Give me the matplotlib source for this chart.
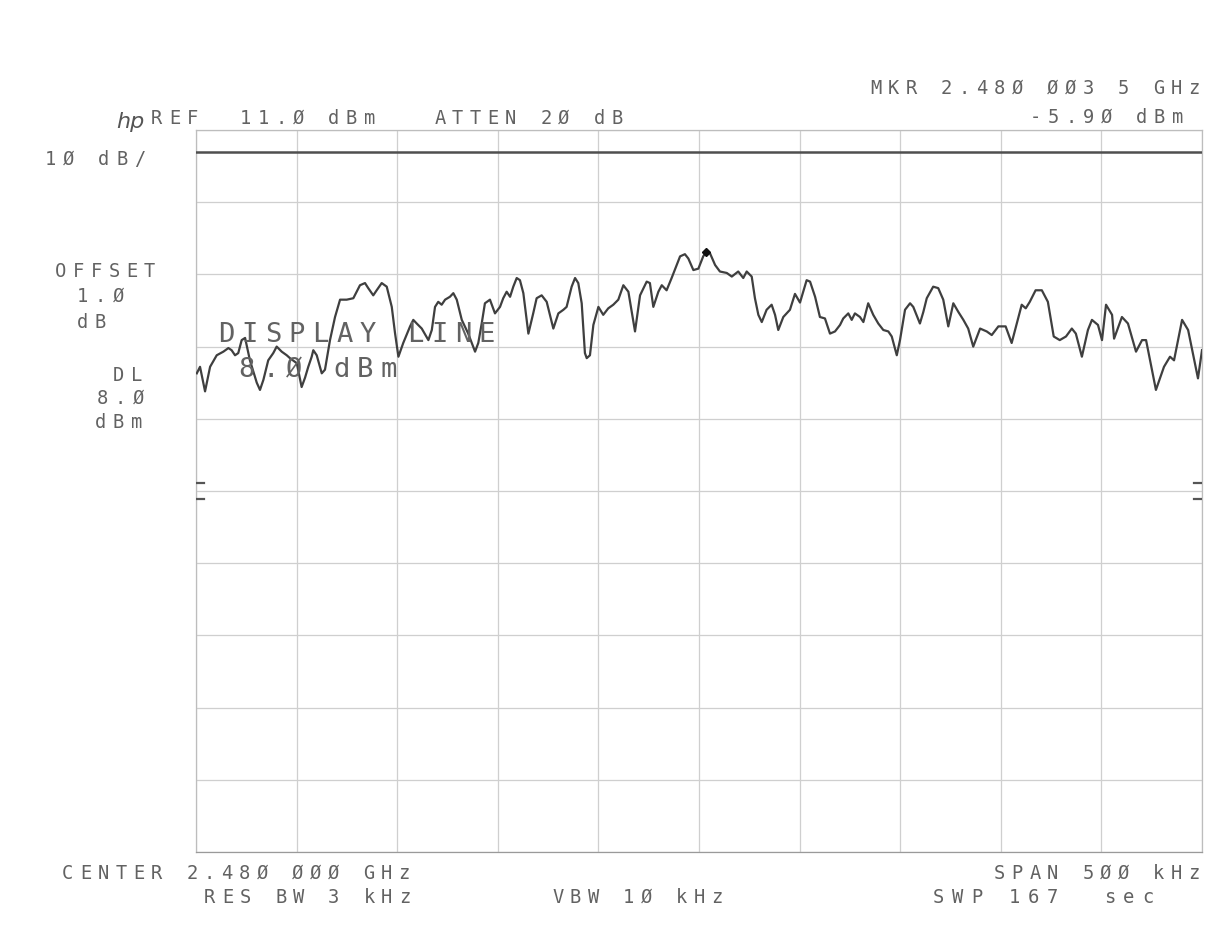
import matplotlib
matplotlib.use("Agg")
import matplotlib.pyplot as plt

# spectrum trace: offset from center (kHz) and level (dBm)
freq_khz = [
    -249.6, -248.0, -245.5, -243.0, -239.7, -236.4, -233.9, -232.3, -230.6, -229.0,
    -227.3, -225.6, -223.2, -219.8, -218.2, -216.5, -214.1, -211.6, -209.9, -207.4,
    -204.9, -203.3, -199.9, -197.5, -195.8, -194.2, -192.5, -191.7, -190.0, -187.5,
    -185.9, -183.4, -180.9, -178.4, -175.1, -171.8, -168.5, -166.0, -164.4, -161.9,
    -160.2, -157.7, -155.2, -152.7, -151.1, -149.4, -147.0, -143.6, -142.0, -140.3,
    -137.8, -134.5, -132.8, -131.2, -129.6, -127.9, -126.2, -123.8, -122.1, -120.4,
    -117.9, -114.7, -111.3, -109.7, -108.0, -106.4, -103.9, -101.4, -98.9, -97.3,
    -95.6, -93.9, -92.3, -90.6, -89.0, -87.3, -84.8, -82.4, -80.7, -78.2,
    -75.7, -72.4, -69.9, -67.4, -65.8, -63.3, -61.6, -60.0, -58.3, -56.7,
    -55.8, -54.2, -52.5, -50.0, -47.6, -45.1, -42.6, -40.1, -37.6, -35.1,
    -33.4, -31.8, -29.3, -26.0, -24.4, -22.7, -20.2, -18.5, -16.1, -13.6,
    -11.1, -9.4, -7.0, -5.3, -2.8, -0.3, 2.1, 3.5, 5.5, 8.0,
    10.4, 13.8, 16.3, 19.5, 22.0, 23.7, 26.2, 27.8, 29.5, 31.2,
    33.6, 36.1, 37.8, 39.4, 41.9, 45.2, 47.7, 50.2, 53.5, 55.2,
    57.7, 60.1, 62.6, 65.1, 67.6, 70.1, 71.7, 74.2, 75.9, 77.5,
    80.0, 81.7, 84.1, 86.6, 89.1, 91.6, 94.1, 95.8, 98.3, 99.9,
    102.4, 104.9, 106.5, 109.8, 111.5, 113.2, 116.4, 118.9, 121.4, 123.9,
    126.4, 128.9, 131.4, 133.8, 136.3, 139.7, 143.0, 145.5, 148.8, 152.4,
    155.4, 158.4, 160.4, 162.4, 164.4, 167.3, 170.4, 173.4, 176.3, 179.3,
    182.4, 185.3, 187.3, 190.3, 193.3, 195.3, 198.3, 200.3, 202.3, 205.3,
    206.3, 210.2, 213.2, 217.2, 220.2, 222.2, 227.1, 231.1, 234.1, 236.1,
    240.1, 243.1, 248.0, 250.0,
]
level_dbm = [
    -22.7, -21.8, -25.2, -21.8, -20.2, -19.7, -19.2, -19.5, -20.2, -19.9,
    -18.1, -17.8, -20.9, -24.0, -25.0, -23.6, -20.9, -19.9, -19.0, -19.7,
    -20.2, -20.6, -21.3, -24.6, -23.3, -21.8, -20.4, -19.5, -20.2, -22.7,
    -22.2, -18.1, -14.9, -12.5, -12.5, -12.3, -10.5, -10.2, -10.9, -11.9,
    -11.2, -10.2, -10.7, -13.5, -17.1, -20.4, -18.5, -16.2, -15.3, -15.8,
    -16.5, -18.1, -16.7, -13.5, -12.8, -13.2, -12.5, -12.1, -11.6, -12.5,
    -15.3, -17.2, -19.7, -18.5, -15.8, -13.0, -12.5, -14.4, -13.5, -12.3,
    -11.4, -12.1, -10.7, -9.5, -9.8, -11.6, -17.2, -14.4, -12.3, -11.9,
    -12.8, -16.5, -14.4, -13.9, -13.5, -10.7, -9.5, -10.2, -13.0, -19.9,
    -20.6, -20.2, -16.0, -13.5, -14.6, -13.7, -13.2, -12.5, -10.5, -11.4,
    -14.2, -16.9, -11.9, -10.0, -10.2, -13.5, -11.4, -10.5, -11.2, -9.5,
    -7.7, -6.5, -6.2, -6.8, -8.4, -8.2, -6.5, -5.9, -6.1, -7.7,
    -8.6, -8.8, -9.3, -8.6, -9.5, -8.6, -9.3, -12.3, -14.6, -15.6,
    -13.9, -13.2, -14.6, -16.7, -14.9, -13.9, -11.7, -12.9, -9.8, -10.0,
    -12.1, -14.9, -15.1, -17.2, -16.9, -16.0, -15.1, -14.4, -15.3, -14.4,
    -14.9, -15.6, -13.0, -14.6, -15.8, -16.7, -16.9, -17.6, -20.2, -18.1,
    -13.9, -13.0, -13.5, -15.8, -14.2, -12.3, -10.7, -10.9, -12.5, -16.2,
    -13.0, -14.2, -15.3, -16.5, -19.0, -16.5, -16.9, -17.4, -16.2, -16.2,
    -18.5, -15.3, -13.2, -13.7, -12.8, -11.2, -11.2, -12.8, -17.6, -18.1,
    -17.6, -16.5, -17.2, -20.4, -16.7, -15.3, -16.0, -18.1, -13.2, -14.6,
    -17.9, -14.9, -15.8, -19.7, -18.1, -18.1, -25.0, -21.8, -20.4, -20.9,
    -15.3, -16.7, -23.4, -19.5,
]

ref_level = 11.0      # dBm, top of screen
db_per_div = 10.0
span_khz = 500.0
display_line = 8.0    # dBm
marker_khz, marker_dbm = 3.5, -5.9
limit_marks_dbm = [-37.9, -40.1]

W, H = 1206, 951
INK = "#626262"

fig = plt.figure(figsize=(W / 100, H / 100), dpi=100)
fig.patch.set_facecolor("white")
ax = fig.add_axes([196 / W, 1 - 852 / H, 1006 / W, 722 / H])

ax.set_xlim(-span_khz / 2, span_khz / 2)
ax.set_ylim(ref_level - 10 * db_per_div, ref_level)
ax.set_xticks([-span_khz / 2 + i * span_khz / 10 for i in range(11)])
ax.set_yticks([ref_level - i * db_per_div for i in range(11)])
ax.tick_params(length=0, labelbottom=False, labelleft=False)
ax.grid(True, color="#cfcfcf", lw=0.9)
for sp in ax.spines.values():
    sp.set_color("#bdbdbd")
    sp.set_linewidth(0.9)
ax.spines["bottom"].set_color("#9a9a9a")

ax.axhline(display_line, color="#4f4f4f", lw=1.8, zorder=3)
ax.plot(freq_khz, level_dbm, color="#3f3f3f", lw=1.6, zorder=4)
ax.plot(marker_khz, marker_dbm, marker="D", ms=4.5, color="#111111", zorder=5)
for lv in limit_marks_dbm:
    ax.plot([-250, -246], [lv, lv], color="#555555", lw=1.6, zorder=4)
    ax.plot([246, 250], [lv, lv], color="#555555", lw=1.6, zorder=4)


def hp_text(s, x, base, size=13.5, pitch=17.7, right=False):
    # plotter lettering: one character per fixed-width cell (pixel coords from top-left)
    if right:
        x = x - len(s) * pitch
    for i, ch in enumerate(s):
        if ch.strip():
            fig.text((x + (i + 0.5) * pitch) / W, 1 - base / H, ch, ha="center",
                     va="baseline", fontsize=size, family="DejaVu Sans Mono", color=INK)


fig.text(144 / W, 1 - 128 / H, "hp", fontsize=16, style="italic", color="#555555",
         family="DejaVu Sans", va="baseline", ha="right")
hp_text("REF  11.Ø dBm   ATTEN 2Ø dB", 148, 124)
hp_text("MKR 2.48Ø ØØ3 5 GHz", 1203, 94, right=True)
hp_text("-5.9Ø dBm", 1186, 123, right=True)
hp_text("1Ø dB/", 42, 165)
hp_text("OFFSET", 52, 277)
hp_text("1.Ø", 74, 302)
hp_text("dB", 74, 328)
hp_text("DL", 110, 381)
hp_text("8.Ø", 94, 404)
hp_text("dBm", 92, 428)
hp_text("DISPLAY LINE", 214, 342, size=19.5, pitch=23.7)
hp_text("8.Ø dBm", 235, 377, size=19.5, pitch=23.7)
hp_text("CENTER 2.48Ø ØØØ GHz", 59, 879)
hp_text("SPAN 5ØØ kHz", 1203, 879, right=True)
hp_text("RES BW 3 kHz", 201, 903)
hp_text("VBW 1Ø kHz", 549, 903)
hp_text("SWP 167  sec", 929, 903, pitch=19.0)

fig.savefig("out.png", dpi=100, facecolor=fig.get_facecolor())
